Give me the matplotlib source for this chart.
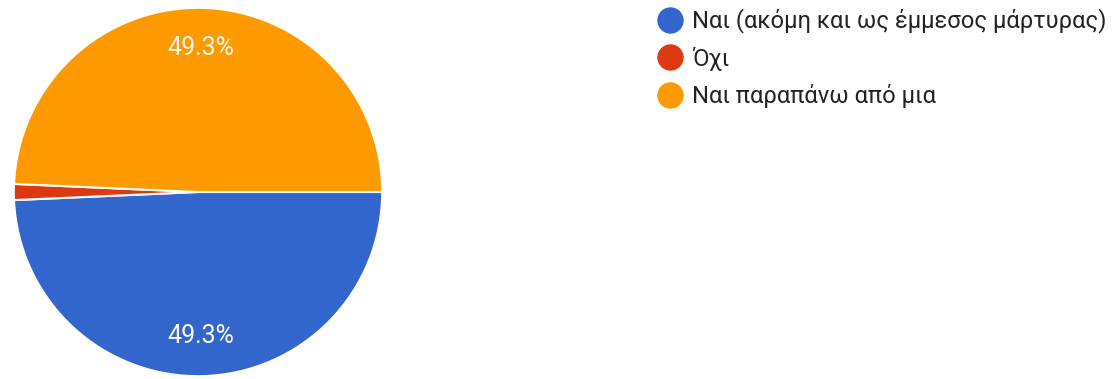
import matplotlib
matplotlib.use("Agg")
import matplotlib.pyplot as plt
from matplotlib.lines import Line2D

categories = ["Ναι (ακόμη και ως έμμεσος μάρτυρας)", "Όχι", "Ναι παραπάνω από μια"]
values = [49.3, 1.4, 49.3]
colors = ["#3366CC", "#DC3912", "#FF9900"]

W, H = 1117, 379
fig = plt.figure(figsize=(W / 100, H / 100), dpi=100)
plt.rcParams['font.family'] = ['Roboto', 'DejaVu Sans']

cx, cy, r = 198, 192, 186
ax = fig.add_axes([(cx - r) / W, (H - cy - r) / H, 2 * r / W, 2 * r / H])
wedges, texts, autotexts = ax.pie(
    values, colors=colors, startangle=0, counterclock=False,
    autopct=lambda p: f"{p:.1f}%" if p > 5 else "",
    pctdistance=0.78, radius=1,
    wedgeprops=dict(edgecolor="white", linewidth=1.5),
    textprops=dict(color="#fdf8ee", fontsize=18))
ax.set_xlim(-1.01, 1.01)
ax.set_ylim(-1.01, 1.01)
ax.set_aspect("equal")
ax.axis("off")

handles = [Line2D([0], [0], marker="o", linestyle="none", markersize=18,
                  markerfacecolor=c, markeredgecolor=c) for c in colors]
fig.legend(handles, categories, loc="upper left",
           bbox_to_anchor=(658 / W, 1 - 8.5 / H), frameon=False,
           fontsize=17.1, labelcolor="#222222", handletextpad=0.43,
           labelspacing=0.56, borderaxespad=0, handlelength=1.0,
           borderpad=0)

fig.savefig("out.png", dpi=100)
